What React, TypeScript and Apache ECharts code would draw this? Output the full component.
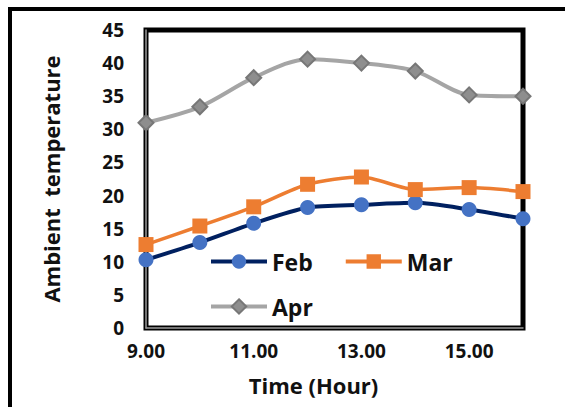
import React, { useEffect, useRef } from "react";
import * as echarts from "echarts";

const hours = [9, 10, 11, 12, 13, 14, 15, 16];
const feb = [10.3, 12.9, 15.8, 18.2, 18.6, 18.9, 17.9, 16.5];
const mar = [12.6, 15.4, 18.3, 21.7, 22.8, 20.9, 21.2, 20.6];
const apr = [31.0, 33.4, 37.8, 40.6, 40.0, 38.8, 35.2, 35.0];
const seriesNames = ["Feb", "Mar", "Apr"];

const FONT = "'Open Sans', 'Noto Sans', sans-serif";

export default function App() {
  const ref = useRef<HTMLDivElement>(null);
  useEffect(() => {
    if (!ref.current) return;
    const chart = echarts.init(ref.current, null, { renderer: "svg" });
    const pair = (arr: number[]) => hours.map((h, i) => [h, arr[i]]);
    const legendText = { fontSize: 23, fontWeight: "bold", color: "#111", fontFamily: FONT };
    chart.setOption({
      animation: false,
      backgroundColor: "#fff",
      textStyle: { fontFamily: FONT },
      grid: {
        left: 146,
        right: 42,
        top: 30,
        bottom: 79,
        show: true,
        borderColor: "#000",
        borderWidth: 5,
        backgroundColor: "transparent",
      },
      legend: [
        {
          data: [seriesNames[0], seriesNames[1]],
          left: 204,
          top: 245,
          itemWidth: 56,
          itemHeight: 18,
          itemGap: 31,
          lineStyle: { width: 4 },
          textStyle: legendText,
        },
        {
          data: [seriesNames[2]],
          left: 204,
          top: 290,
          itemWidth: 56,
          itemHeight: 18,
          lineStyle: { width: 4 },
          textStyle: legendText,
        },
      ],
      xAxis: {
        type: "value",
        min: 9,
        max: 16,
        interval: 1,
        name: "Time (Hour)",
        nameLocation: "middle",
        nameGap: 46,
        nameTextStyle: {
          fontSize: 22,
          fontWeight: "bold",
          color: "#111",
          fontFamily: FONT,
          padding: [0, 42, 0, 0],
        },
        axisLine: { show: true, lineStyle: { color: "#9a9a9a", width: 1.5 } },
        axisTick: { show: false },
        splitLine: { show: false },
        axisLabel: {
          margin: 13,
          fontSize: 19,
          fontWeight: "bold",
          color: "#111",
          fontFamily: FONT,
          formatter: (v: number) => (v % 2 === 1 ? v.toFixed(2) : ""),
        },
      },
      yAxis: {
        type: "value",
        min: 0,
        max: 45,
        interval: 5,
        name: "Ambient  temperature",
        nameLocation: "middle",
        nameGap: 84,
        nameTextStyle: { fontSize: 22, fontWeight: "bold", color: "#111", fontFamily: FONT },
        axisLine: { show: true, lineStyle: { color: "#9a9a9a", width: 1.5 } },
        axisTick: { show: false },
        splitLine: { show: false },
        axisLabel: {
          margin: 22,
          fontSize: 19,
          fontWeight: "bold",
          color: "#111",
          fontFamily: FONT,
        },
      },
      graphic: [
        {
          type: "rect",
          shape: { x: 10, y: 9, width: 700, height: 600 },
          style: { fill: "none", stroke: "#000", lineWidth: 4 },
          silent: true,
        },
      ],
      series: [
        {
          name: seriesNames[0],
          type: "line",
          data: pair(feb),
          smooth: 0.25,
          symbol: "circle",
          symbolSize: 15,
          lineStyle: { color: "#002060", width: 4 },
          itemStyle: { color: "#4472C4" },
          z: 3,
        },
        {
          name: seriesNames[1],
          type: "line",
          data: pair(mar),
          smooth: 0.25,
          symbol: "rect",
          symbolSize: 15,
          lineStyle: { color: "#ED7D31", width: 3.5 },
          itemStyle: { color: "#ED7D31" },
          z: 3,
        },
        {
          name: seriesNames[2],
          type: "line",
          data: pair(apr),
          smooth: 0.3,
          symbol: "diamond",
          symbolSize: 15,
          lineStyle: { color: "#A5A5A5", width: 4 },
          itemStyle: { color: "#8E8E8E", borderColor: "#777", borderWidth: 2 },
          z: 3,
        },
      ],
    });
    return () => chart.dispose();
  }, []);
  return (
    <div
      ref={ref}
      style={{ position: "fixed", left: 0, top: 0, width: 565, height: 407 }}
    />
  );
}
